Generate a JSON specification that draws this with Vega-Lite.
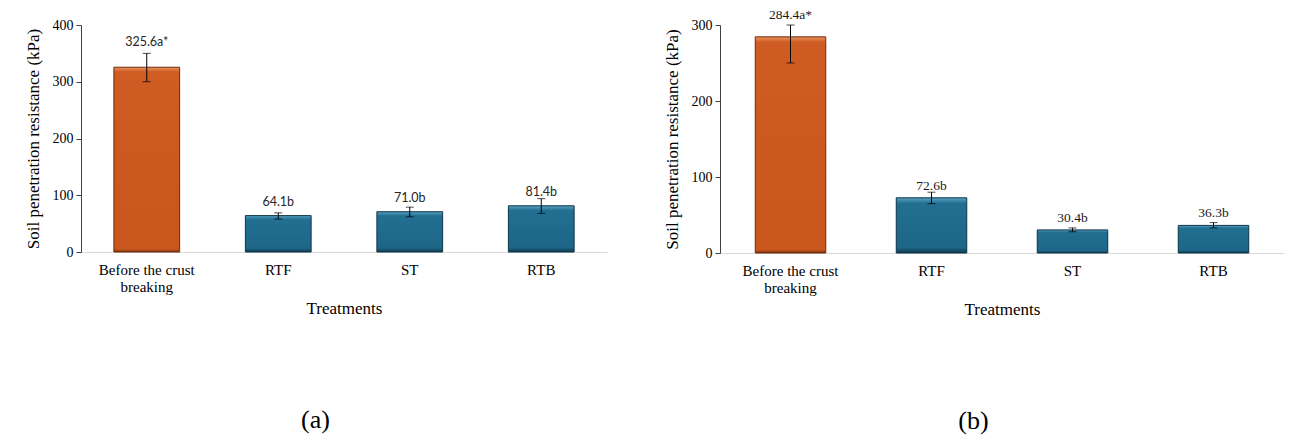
{
  "$schema": "https://vega.github.io/schema/vega-lite/v6.json",
  "background": "white",
  "padding": {"left": 24, "top": 8, "right": 10, "bottom": 5},
  "spacing": 56,
  "config": {
    "view": {"stroke": null},
    "font": "Liberation Serif",
    "axis": {"labelColor": "black", "titleColor": "black", "titleFontWeight": "normal", "labelFont": "Liberation Serif", "titleFont": "Liberation Serif", "grid": false},
    "axisY": {"domainColor": "#404040", "tickColor": "#404040", "tickSize": 5, "labelPadding": 3, "labelFontSize": 14, "titleFontSize": 17, "titlePadding": 10},
    "axisX": {"domainColor": "#D9D9D9", "ticks": false, "labelAngle": 0, "labelPadding": 10, "labelFontSize": 15, "labelLineHeight": 17, "titleFontSize": 17, "titlePadding": 6}
  },
  "datasets": {
    "a": [
      {"treatment": "Before the crust breaking", "value": 325.6, "lo": 300, "hi": 350, "label": "325.6a*"},
      {"treatment": "RTF", "value": 64.1, "lo": 58, "hi": 69, "label": "64.1b"},
      {"treatment": "ST", "value": 71.0, "lo": 62, "hi": 79, "label": "71.0b"},
      {"treatment": "RTB", "value": 81.4, "lo": 68, "hi": 94, "label": "81.4b"}
    ],
    "b": [
      {"treatment": "Before the crust breaking", "value": 284.4, "lo": 250, "hi": 318, "label": "284.4a*"},
      {"treatment": "RTF", "value": 72.6, "lo": 65, "hi": 80, "label": "72.6b"},
      {"treatment": "ST", "value": 30.4, "lo": 28, "hi": 33, "label": "30.4b"},
      {"treatment": "RTB", "value": 36.3, "lo": 33, "hi": 40, "label": "36.3b"}
    ]
  },
  "hconcat": [
    {
      "width": 526,
      "height": 227,
      "data": {"name": "a"},
      "title": {"text": "(a)", "orient": "bottom", "frame": "bounds", "anchor": "middle", "offset": 91, "font": "Liberation Sans Narrow", "fontSize": 26, "fontWeight": "normal", "color": "black"},
      "encoding": {
        "x": {"field": "treatment", "type": "nominal", "sort": null, "title": "Treatments",
          "scale": {"domain": ["Before the crust breaking", "RTF", "ST", "RTB"], "paddingInner": 0.5, "paddingOuter": 0.25},
          "axis": {"labelExpr": "datum.label == 'Before the crust breaking' ? ['Before the crust', 'breaking'] : datum.label"}}
      },
      "layer": [
        {
          "transform": [{"filter": "datum.treatment === 'Before the crust breaking'"}],
          "mark": {"type": "bar", "stroke": "#6e2a0c", "strokeWidth": 1,
            "color": {"gradient": "linear", "x1": 0, "y1": 0, "x2": 0, "y2": 1, "stops": [
              {"offset": 0, "color": "#ec9460"}, {"offset": 0.025, "color": "#cf5c22"}, {"offset": 0.985, "color": "#c8561d"}, {"offset": 1, "color": "#7a3010"}]}},
          "encoding": {"y": {"field": "value", "type": "quantitative", "title": "Soil penetration resistance (kPa)",
            "scale": {"domain": [0, 400], "nice": false},
            "axis": {"values": [0, 50, 100, 150, 200, 250, 300, 350, 400], "labelExpr": "datum.value % 100 === 0 ? datum.label : ''"}}}
        },
        {
          "transform": [{"filter": "datum.treatment !== 'Before the crust breaking'"}],
          "mark": {"type": "bar", "stroke": "#0e3446", "strokeWidth": 1,
            "color": {"gradient": "linear", "x1": 0, "y1": 0, "x2": 0, "y2": 1, "stops": [
              {"offset": 0, "color": "#5aa3c4"}, {"offset": 0.1, "color": "#226f92"}, {"offset": 0.9, "color": "#1d6688"}, {"offset": 1, "color": "#0f3b50"}]}},
          "encoding": {"y": {"field": "value", "type": "quantitative", "title": "Soil penetration resistance (kPa)"}}
        },
        {
          "mark": {"type": "errorbar", "color": "black", "ticks": {"size": 8, "color": "black"}, "rule": {"color": "black", "strokeWidth": 1}},
          "encoding": {"y": {"field": "lo", "type": "quantitative", "title": "Soil penetration resistance (kPa)"}, "y2": {"field": "hi"}}
        },
        {
          "transform": [{"filter": "datum.treatment === 'Before the crust breaking'"}],
          "mark": {"type": "text", "baseline": "bottom", "dy": -4, "font": "Lato", "fontSize": 12.5, "color": "#262626"},
          "encoding": {"y": {"field": "hi", "type": "quantitative", "title": "Soil penetration resistance (kPa)"}, "text": {"field": "label"}}
        },
        {
          "transform": [{"filter": "datum.treatment !== 'Before the crust breaking'"}],
          "mark": {"type": "text", "baseline": "bottom", "dy": -7, "font": "Lato", "fontSize": 12.5, "color": "#262626"},
          "encoding": {"y": {"field": "value", "type": "quantitative", "title": "Soil penetration resistance (kPa)"}, "text": {"field": "label"}}
        }
      ]
    },
    {
      "width": 564,
      "height": 228,
      "data": {"name": "b"},
      "title": {"text": "(b)", "orient": "bottom", "frame": "bounds", "anchor": "middle", "offset": 91, "font": "Liberation Sans Narrow", "fontSize": 26, "fontWeight": "normal", "color": "black"},
      "encoding": {
        "x": {"field": "treatment", "type": "nominal", "sort": null, "title": "Treatments",
          "scale": {"domain": ["Before the crust breaking", "RTF", "ST", "RTB"], "paddingInner": 0.5, "paddingOuter": 0.25},
          "axis": {"labelExpr": "datum.label == 'Before the crust breaking' ? ['Before the crust', 'breaking'] : datum.label"}}
      },
      "layer": [
        {
          "transform": [{"filter": "datum.treatment === 'Before the crust breaking'"}],
          "mark": {"type": "bar", "stroke": "#6e2a0c", "strokeWidth": 1,
            "color": {"gradient": "linear", "x1": 0, "y1": 0, "x2": 0, "y2": 1, "stops": [
              {"offset": 0, "color": "#ec9460"}, {"offset": 0.025, "color": "#cf5c22"}, {"offset": 0.985, "color": "#c8561d"}, {"offset": 1, "color": "#7a3010"}]}},
          "encoding": {"y": {"field": "value", "type": "quantitative", "title": "Soil penetration resistance (kPa)",
            "scale": {"domain": [0, 300], "nice": false, "clamp": true},
            "axis": {"values": [0, 50, 100, 150, 200, 250, 300], "labelExpr": "datum.value % 100 === 0 ? datum.label : ''"}}}
        },
        {
          "transform": [{"filter": "datum.treatment !== 'Before the crust breaking'"}],
          "mark": {"type": "bar", "stroke": "#0e3446", "strokeWidth": 1,
            "color": {"gradient": "linear", "x1": 0, "y1": 0, "x2": 0, "y2": 1, "stops": [
              {"offset": 0, "color": "#5aa3c4"}, {"offset": 0.1, "color": "#226f92"}, {"offset": 0.9, "color": "#1d6688"}, {"offset": 1, "color": "#0f3b50"}]}},
          "encoding": {"y": {"field": "value", "type": "quantitative", "title": "Soil penetration resistance (kPa)"}}
        },
        {
          "mark": {"type": "errorbar", "color": "black", "ticks": {"size": 8, "color": "black"}, "rule": {"color": "black", "strokeWidth": 1}},
          "encoding": {"y": {"field": "lo", "type": "quantitative", "title": "Soil penetration resistance (kPa)"}, "y2": {"field": "hi"}}
        },
        {
          "transform": [{"filter": "datum.treatment === 'Before the crust breaking'"}],
          "mark": {"type": "text", "baseline": "bottom", "dy": -3, "font": "Liberation Serif", "fontSize": 13.5, "color": "#1a1a1a"},
          "encoding": {"y": {"field": "hi", "type": "quantitative", "title": "Soil penetration resistance (kPa)"}, "text": {"field": "label"}}
        },
        {
          "transform": [{"filter": "datum.treatment !== 'Before the crust breaking'"}],
          "mark": {"type": "text", "baseline": "bottom", "dy": -5, "font": "Liberation Serif", "fontSize": 13.5, "color": "#1a1a1a"},
          "encoding": {"y": {"field": "value", "type": "quantitative", "title": "Soil penetration resistance (kPa)"}, "text": {"field": "label"}}
        }
      ]
    }
  ]
}
